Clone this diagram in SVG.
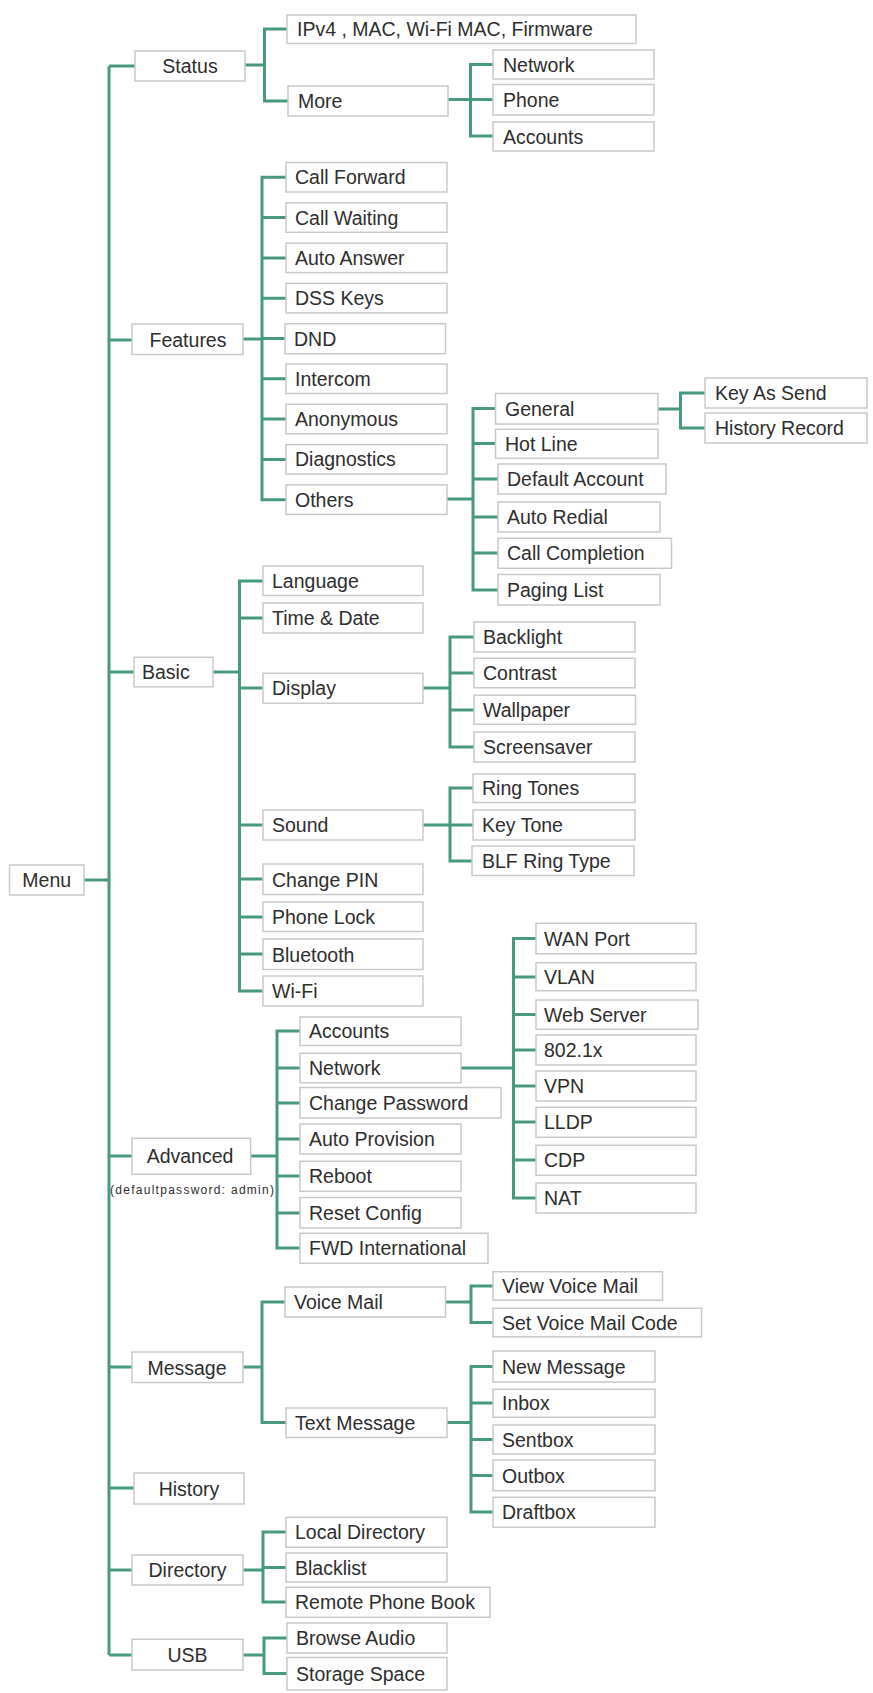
<svg xmlns="http://www.w3.org/2000/svg" width="873" height="1693" viewBox="0 0 873 1693">
<style>
rect{fill:#fff;stroke:#c9c9c9;stroke-width:1.5}
text{font-family:"Liberation Sans",Arial,sans-serif;font-size:19.5px;fill:#2e2e2e}
.m{text-anchor:middle}
.s{font-size:12px}
#connectors path{fill:none;stroke:#479a80;stroke-width:3}
</style>
<rect x="0" y="0" width="873" height="1693" style="fill:#fff;stroke:none"/>
<g id="connectors">
<path d="M109,66 V1655 M109,66 H135 M84,880 H109 M109,340 H132 M109,672 H134 M109,1156 H132 M109,1367 H132 M109,1488 H134 M109,1570 H132 M109,1655 H132"/>
<path d="M245,65 H264.5 M287,29 H264.5 V101 H288"/>
<path d="M448,99.5 H493 M493,64.5 H470.5 V136 H493"/>
<path d="M243,339 H262 M286,177.3 H262 V499.7 H286 M262,217.6 H286 M262,257.9 H286 M262,298.2 H286 M262,338.5 H285 M262,378.8 H286 M262,419.1 H286 M262,459.4 H286"/>
<path d="M447,499 H473 M496,408.5 H473 V590 H498 M473,443.5 H496 M473,479 H498 M473,517 H498 M473,553 H498"/>
<path d="M658,409 H680.5 M705,393 H680.5 V428 H705"/>
<path d="M213,672 H239.5 M263,581 H239.5 V991 H263 M239.5,618 H263 M239.5,688 H263 M239.5,825 H263 M239.5,879 H263 M239.5,917 H263 M239.5,954 H263"/>
<path d="M423,688 H450 M474,637 H450 V747 H474 M450,673 H474 M450,710 H474"/>
<path d="M423,825 H473 M473,788 H450 V861 H473"/>
<path d="M251,1156 H277 M300,1031 H277 V1248 H300 M277,1068 H300 M277,1103 H300 M277,1139 H300 M277,1176 H300 M277,1213 H300"/>
<path d="M461,1068 H513.5 M536,938.5 H513.5 V1198 H536 M513.5,977 H536 M513.5,1014.5 H536 M513.5,1050 H536 M513.5,1086 H536 M513.5,1122 H536 M513.5,1160 H536"/>
<path d="M243,1367 H262 M285,1302 H262 V1422.5 H286"/>
<path d="M445,1302 H471 M493,1286 H471 V1322.5 H493"/>
<path d="M447,1422.5 H471 M493,1366.5 H471 V1512 H493 M471,1403 H493 M471,1439.5 H493 M471,1475.5 H493"/>
<path d="M243,1570 H263 M286,1532 H263 V1602 H286 M263,1567.5 H286"/>
<path d="M243,1655 H264 M287,1638 H264 V1673.5 H287"/>
</g>
<g id="menu"><rect x="9.5" y="865" width="74.5" height="30"/><text class="m" x="46.7" y="887">Menu</text></g>
<g id="status"><rect x="135" y="51" width="110" height="30"/><text class="m" x="190" y="73">Status</text></g>
<g id="ipv4"><rect x="287" y="15" width="349" height="28.5"/><text x="297" y="36">IPv4 , MAC, Wi-Fi MAC, Firmware</text></g>
<g id="more"><rect x="288" y="86" width="160" height="30"/><text x="298" y="108">More</text></g>
<g id="status-network"><rect x="493" y="50" width="161" height="29"/><text x="503" y="71.5">Network</text></g>
<g id="status-phone"><rect x="493" y="84.5" width="161" height="30.5"/><text x="503" y="107">Phone</text></g>
<g id="status-accounts"><rect x="493" y="122" width="161" height="29"/><text x="503" y="143.5">Accounts</text></g>
<g id="features"><rect x="132" y="324" width="111" height="30.5"/><text class="m" x="188" y="346.5">Features</text></g>
<g id="call-forward"><rect x="286" y="162.5" width="161" height="29.5"/><text x="295" y="184.3">Call Forward</text></g>
<g id="call-waiting"><rect x="286" y="202.8" width="161" height="29.5"/><text x="295" y="224.6">Call Waiting</text></g>
<g id="auto-answer"><rect x="286" y="243.1" width="161" height="29.5"/><text x="295" y="264.9">Auto Answer</text></g>
<g id="dss-keys"><rect x="286" y="283.4" width="161" height="29.5"/><text x="295" y="305.2">DSS Keys</text></g>
<g id="dnd"><rect x="285" y="323.7" width="160.5" height="30"/><text x="294" y="345.5">DND</text></g>
<g id="intercom"><rect x="286" y="364" width="161" height="29.5"/><text x="295" y="385.8">Intercom</text></g>
<g id="anonymous"><rect x="286" y="404.3" width="161" height="29.5"/><text x="295" y="426.1">Anonymous</text></g>
<g id="diagnostics"><rect x="286" y="444.6" width="161" height="29.5"/><text x="295" y="466.4">Diagnostics</text></g>
<g id="others"><rect x="286" y="484.9" width="161" height="29.5"/><text x="295" y="506.7">Others</text></g>
<g id="general"><rect x="495.5" y="393.5" width="162.5" height="30.5"/><text x="505" y="416">General</text></g>
<g id="hot-line"><rect x="495.5" y="429.3" width="162.5" height="29"/><text x="505" y="450.5">Hot Line</text></g>
<g id="default-account"><rect x="498" y="464" width="168" height="30"/><text x="507" y="486">Default Account</text></g>
<g id="auto-redial"><rect x="498" y="502" width="162" height="30"/><text x="507" y="524">Auto Redial</text></g>
<g id="call-completion"><rect x="498" y="538.3" width="173.5" height="30"/><text x="507" y="560.3">Call Completion</text></g>
<g id="paging-list"><rect x="498" y="574.5" width="162" height="30.5"/><text x="507" y="597">Paging List</text></g>
<g id="key-as-send"><rect x="705" y="378" width="162" height="30"/><text x="715" y="400">Key As Send</text></g>
<g id="history-record"><rect x="705" y="413" width="162" height="30"/><text x="715" y="435">History Record</text></g>
<g id="basic"><rect x="134" y="657.3" width="79" height="29.5"/><text x="142" y="679">Basic</text></g>
<g id="language"><rect x="263" y="566" width="160" height="29.5"/><text x="272" y="588">Language</text></g>
<g id="time-date"><rect x="263" y="603" width="160" height="30"/><text x="272" y="625">Time &amp; Date</text></g>
<g id="display"><rect x="263" y="673.3" width="160" height="30"/><text x="272" y="695.3">Display</text></g>
<g id="sound"><rect x="263" y="810" width="160" height="30"/><text x="272" y="832">Sound</text></g>
<g id="change-pin"><rect x="263" y="864" width="160" height="30.5"/><text x="272" y="886.5">Change PIN</text></g>
<g id="phone-lock"><rect x="263" y="902" width="160" height="29.5"/><text x="272" y="924">Phone Lock</text></g>
<g id="bluetooth"><rect x="263" y="939" width="160" height="30.5"/><text x="272" y="961.5">Bluetooth</text></g>
<g id="wi-fi"><rect x="263" y="976" width="160" height="30"/><text x="272" y="998">Wi-Fi</text></g>
<g id="backlight"><rect x="474" y="622" width="161" height="30"/><text x="483" y="644">Backlight</text></g>
<g id="contrast"><rect x="474" y="658.3" width="161" height="29.5"/><text x="483" y="680">Contrast</text></g>
<g id="wallpaper"><rect x="474" y="695.3" width="161.5" height="29"/><text x="483" y="717">Wallpaper</text></g>
<g id="screensaver"><rect x="474" y="732" width="161" height="30"/><text x="483" y="754">Screensaver</text></g>
<g id="ring-tones"><rect x="473" y="774" width="162" height="28.5"/><text x="482" y="795">Ring Tones</text></g>
<g id="key-tone"><rect x="473" y="810" width="162" height="30"/><text x="482" y="832">Key Tone</text></g>
<g id="blf-ring-type"><rect x="472" y="846" width="162" height="29.5"/><text x="482" y="868">BLF Ring Type</text></g>
<g id="advanced"><rect x="132" y="1138.3" width="118.6" height="36"/><text class="m" x="190" y="1163">Advanced</text><text class="s" x="110" y="1194" textLength="164" lengthAdjust="spacing">(defaultpassword: admin)</text></g>
<g id="adv-accounts"><rect x="300" y="1017" width="161" height="28.5"/><text x="309" y="1038">Accounts</text></g>
<g id="adv-network"><rect x="300" y="1053.3" width="161" height="29.5"/><text x="309" y="1075">Network</text></g>
<g id="change-password"><rect x="300" y="1087.5" width="201" height="30.5"/><text x="309" y="1110">Change Password</text></g>
<g id="auto-provision"><rect x="300" y="1124" width="161" height="30"/><text x="309" y="1146">Auto Provision</text></g>
<g id="reboot"><rect x="300" y="1161.3" width="161" height="30"/><text x="309" y="1183.3">Reboot</text></g>
<g id="reset-config"><rect x="300" y="1197.5" width="161" height="30.5"/><text x="309" y="1220">Reset Config</text></g>
<g id="fwd-international"><rect x="300" y="1233.3" width="188" height="30"/><text x="309" y="1255.3">FWD International</text></g>
<g id="wan-port"><rect x="536" y="923.3" width="160" height="30.5"/><text x="544" y="945.5">WAN Port</text></g>
<g id="vlan"><rect x="536" y="962.7" width="160" height="28"/><text x="544" y="984">VLAN</text></g>
<g id="web-server"><rect x="536" y="1000" width="162" height="29.3"/><text x="544" y="1021.5">Web Server</text></g>
<g id="dot1x"><rect x="536" y="1035" width="160" height="30"/><text x="544" y="1057">802.1x</text></g>
<g id="vpn"><rect x="536" y="1071" width="160" height="30"/><text x="544" y="1093">VPN</text></g>
<g id="lldp"><rect x="536" y="1107.3" width="160" height="30"/><text x="544" y="1129.3">LLDP</text></g>
<g id="cdp"><rect x="536" y="1145.3" width="160" height="30"/><text x="544" y="1167.3">CDP</text></g>
<g id="nat"><rect x="536" y="1183" width="160" height="30"/><text x="544" y="1205">NAT</text></g>
<g id="message"><rect x="132" y="1352" width="111" height="30.5"/><text class="m" x="187" y="1374.5">Message</text></g>
<g id="voice-mail"><rect x="285" y="1287" width="160.5" height="30"/><text x="294" y="1309">Voice Mail</text></g>
<g id="text-message"><rect x="286" y="1408" width="161" height="29.5"/><text x="295" y="1430">Text Message</text></g>
<g id="view-voice-mail"><rect x="493" y="1271.7" width="169.5" height="28.5"/><text x="502" y="1293">View Voice Mail</text></g>
<g id="set-voice-mail-code"><rect x="493" y="1308.3" width="208.5" height="28.5"/><text x="502" y="1329.5">Set Voice Mail Code</text></g>
<g id="new-message"><rect x="493" y="1351" width="162" height="31"/><text x="502" y="1373.5">New Message</text></g>
<g id="inbox"><rect x="493" y="1389.3" width="162" height="28"/><text x="502" y="1410">Inbox</text></g>
<g id="sentbox"><rect x="493" y="1425" width="162" height="29"/><text x="502" y="1446.5">Sentbox</text></g>
<g id="outbox"><rect x="493" y="1460" width="162" height="30.7"/><text x="502" y="1482.5">Outbox</text></g>
<g id="draftbox"><rect x="493" y="1497.3" width="162" height="30"/><text x="502" y="1519.3">Draftbox</text></g>
<g id="history"><rect x="134" y="1473" width="110" height="31"/><text class="m" x="189" y="1495.5">History</text></g>
<g id="directory"><rect x="132" y="1555" width="111" height="30"/><text class="m" x="187.5" y="1577">Directory</text></g>
<g id="local-directory"><rect x="286" y="1517.3" width="161" height="30"/><text x="295" y="1539.3">Local Directory</text></g>
<g id="blacklist"><rect x="286" y="1553" width="161" height="29"/><text x="295" y="1574.5">Blacklist</text></g>
<g id="remote-phone-book"><rect x="286" y="1587.3" width="204" height="30"/><text x="295" y="1609.3">Remote Phone Book</text></g>
<g id="usb"><rect x="132" y="1639.3" width="111" height="30.7"/><text class="m" x="187.5" y="1661.5">USB</text></g>
<g id="browse-audio"><rect x="287" y="1623" width="160" height="30"/><text x="296" y="1645">Browse Audio</text></g>
<g id="storage-space"><rect x="287" y="1657.5" width="160" height="32.5"/><text x="296" y="1681">Storage Space</text></g>
</svg>
